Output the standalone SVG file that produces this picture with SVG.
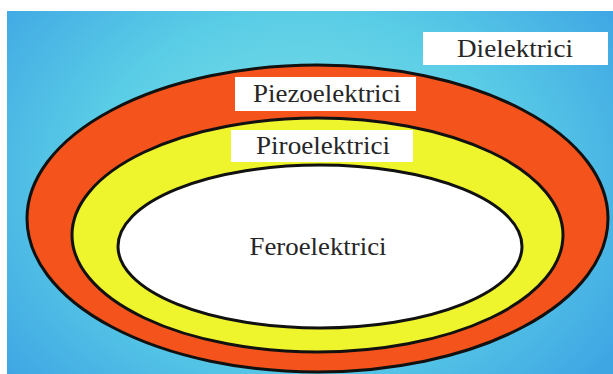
<svg xmlns="http://www.w3.org/2000/svg" width="613" height="374" viewBox="0 0 613 374">
  <defs>
    <radialGradient id="bg" gradientUnits="userSpaceOnUse" cx="300" cy="180" r="380" gradientTransform="translate(300 180) scale(1 0.8) translate(-300 -180)">
      <stop offset="0" stop-color="#84E2E6"/>
      <stop offset="0.55" stop-color="#5ACDE6"/>
      <stop offset="1" stop-color="#3FA6E4"/>
    </radialGradient>
  </defs>
  <style>
    .ring { stroke: #111; stroke-width: 3; }
    .box { fill: #ffffff; }
    .lbl { font-family: "Liberation Serif", "Times New Roman", serif; font-size: 26px; fill: #262626; text-anchor: middle; }
  </style>
  <rect x="0" y="0" width="613" height="374" fill="#ffffff"/>
  <rect x="7" y="11" width="606" height="363" fill="url(#bg)"/>
  <g id="dielektrici">
    <rect class="box" x="423" y="32" width="185" height="33"/>
    <text class="lbl" x="515" y="57" textLength="116" lengthAdjust="spacingAndGlyphs">Dielektrici</text>
  </g>
  <g id="piezoelektrici">
    <ellipse class="ring" cx="317.5" cy="218.5" rx="290.5" ry="153.5" fill="#F4541C"/>
    <rect class="box" x="235" y="77" width="181" height="34"/>
    <text class="lbl" x="327" y="102" textLength="148" lengthAdjust="spacingAndGlyphs">Piezoelektrici</text>
  </g>
  <g id="piroelektrici">
    <ellipse class="ring" cx="317.5" cy="235" rx="245.5" ry="117" fill="#EEF52C"/>
    <rect class="box" x="231" y="130" width="182" height="32"/>
    <text class="lbl" x="323" y="154" textLength="134" lengthAdjust="spacingAndGlyphs">Piroelektrici</text>
  </g>
  <g id="feroelektrici">
    <ellipse class="ring" cx="320" cy="246.5" rx="202" ry="81.5" fill="#ffffff"/>
    <text class="lbl" x="318" y="255" textLength="137" lengthAdjust="spacingAndGlyphs">Feroelektrici</text>
  </g>
  <g id="connectors"/>
</svg>
